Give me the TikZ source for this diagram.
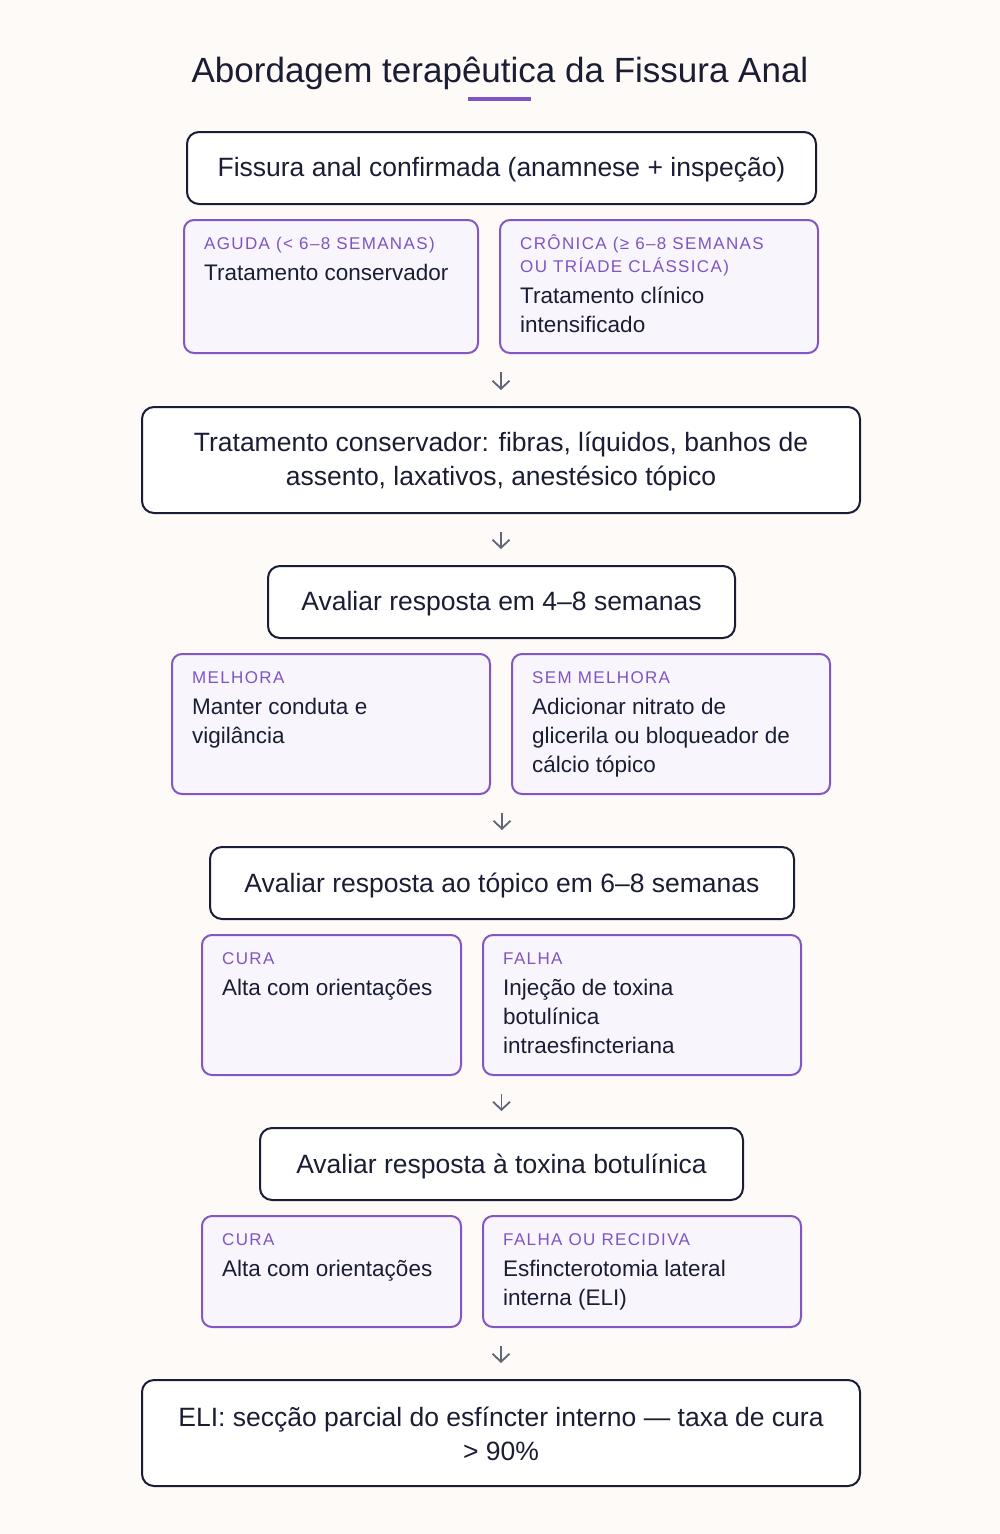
\documentclass[tikz,border=0pt]{standalone}
\usepackage{fontspec}
\setmainfont{Liberation Sans}
\usetikzlibrary{arrows.meta}
\definecolor{bg}{HTML}{FDFAF7}
\definecolor{navy}{HTML}{1A1D35}
\definecolor{ink}{HTML}{1A1D33}
\definecolor{pborder}{HTML}{8356C6}
\definecolor{pfill}{HTML}{F8F5FD}
\definecolor{plabel}{HTML}{7E55C2}
\definecolor{arrowgray}{HTML}{5F6677}
\begin{document}
\begin{tikzpicture}[x=1pt,y=-1pt,
  mainbox/.style={draw=navy, line width=2pt, rounded corners=12pt, fill=white,
    anchor=north west, inner sep=0pt, align=center, text=ink,
    font=\fontsize{26.5}{34}\selectfont},
  mtext/.style={text=ink, align=center, inner sep=0pt, font=\fontsize{26.5}{34}\selectfont},
  pbox/.style={draw=pborder, line width=2pt, rounded corners=10pt, fill=pfill,
    anchor=north west, inner sep=0pt},
  plab/.style={anchor=base west, inner sep=0pt, align=left, text=plabel,
    font=\fontsize{17}{23}\selectfont\addfontfeature{LetterSpace=8}},
  pbody/.style={anchor=base west, inner sep=0pt, align=left, text=ink,
    font=\fontsize{22.5}{29}\selectfont},
  arr/.style={draw=arrowgray, line width=1.8pt,
    -{Straight Barb[length=8pt,width=17pt]}, shorten <=18pt, shorten >=16pt}
]
\fill[bg] (0,0) rectangle (1000,1534);
\useasboundingbox (0,0) rectangle (1000,1534);

% title
\node[anchor=base, inner sep=0pt, text=ink, font=\fontsize{35}{40}\selectfont] (title) at (500,82) {Abordagem terapêutica da Fissura Anal};
\fill[plabel] (468,97) rectangle (531,101);

% main 1
\node[mainbox, minimum width=629pt, minimum height=72pt] (m1) at (186,131) {};
\node[mtext] at ([yshift=-2pt]m1.center) {Fissura anal confirmada (anamnese + inspeção)};

% row 1
\node[pbox, minimum width=294pt, minimum height=133pt] (a1) at (183,219) {};
\node[pbox, minimum width=318pt, minimum height=133pt] (a2) at (499,219) {};
\node[plab] (a1l) at (204,249) {AGUDA (< 6–8 SEMANAS)};
\node[pbody] (a1b) at (204,280) {Tratamento conservador};
\node[plab] (a2l) at (520,272) {CRÔNICA (≥ 6–8 SEMANAS\\OU TRÍADE CLÁSSICA)};
\node[pbody] (a2b) at (520,332) {Tratamento clínico\\intensificado};

% main 2
\node[mainbox, minimum width=718pt, minimum height=106pt] (m2) at (141,406) {};
\node[mtext] at ([yshift=-1pt]m2.center) {Tratamento conservador: fibras, líquidos, banhos de\\assento, laxativos, anestésico tópico};

% main 3
\node[mainbox, minimum width=467pt, minimum height=72pt] (m3) at (267,565) {};
\node[mtext] at ([yshift=-2pt]m3.center) {Avaliar resposta em 4–8 semanas};

% row 2
\node[pbox, minimum width=318pt, minimum height=140pt] (b1) at (171,653) {};
\node[pbox, minimum width=318pt, minimum height=140pt] (b2) at (511,653) {};
\node[plab] (b1l) at (192,683) {MELHORA};
\node[pbody] (b1b) at (192,743) {Manter conduta e\\vigilância};
\node[plab] (b2l) at (532,683) {SEM MELHORA};
\node[pbody] (b2b) at (532,772) {Adicionar nitrato de\\glicerila ou bloqueador de\\cálcio tópico};

% main 4
\node[mainbox, minimum width=584pt, minimum height=72pt] (m4) at (209,846) {};
\node[mtext] at ([yshift=-2pt]m4.center) {Avaliar resposta ao tópico em 6–8 semanas};

% row 3
\node[pbox, minimum width=259pt, minimum height=140pt] (c1) at (201,934) {};
\node[pbox, minimum width=318pt, minimum height=140pt] (c2) at (482,934) {};
\node[plab] (c1l) at (222,964) {CURA};
\node[pbody] (c1b) at (222,995) {Alta com orientações};
\node[plab] (c2l) at (503,964) {FALHA};
\node[pbody] (c2b) at (503,1053) {Injeção de toxina\\botulínica\\intraesfincteriana};

% main 5
\node[mainbox, minimum width=483pt, minimum height=72pt] (m5) at (259,1127) {};
\node[mtext] at ([yshift=-2pt]m5.center) {Avaliar resposta à toxina botulínica};

% row 4
\node[pbox, minimum width=259pt, minimum height=111pt] (d1) at (201,1215) {};
\node[pbox, minimum width=318pt, minimum height=111pt] (d2) at (482,1215) {};
\node[plab] (d1l) at (222,1245) {CURA};
\node[pbody] (d1b) at (222,1276) {Alta com orientações};
\node[plab] (d2l) at (503,1245) {FALHA OU RECIDIVA};
\node[pbody] (d2b) at (503,1305) {Esfincterotomia lateral\\interna (ELI)};

% main 6
\node[mainbox, minimum width=718pt, minimum height=106pt] (m6) at (141,1379) {};
\node[mtext] at ([yshift=-1pt]m6.center) {ELI: secção parcial do esfíncter interno — taxa de cura\\> 90\%};

% arrows
\draw[arr] (m2.north |- a1.south) -- (m2.north);
\draw[arr] (m2.south) -- (m2.south |- m3.north);
\draw[arr] (m4.north |- b1.south) -- (m4.north);
\draw[arr] (m5.north |- c1.south) -- (m5.north);
\draw[arr] (m6.north |- d1.south) -- (m6.north);
\end{tikzpicture}
\end{document}
